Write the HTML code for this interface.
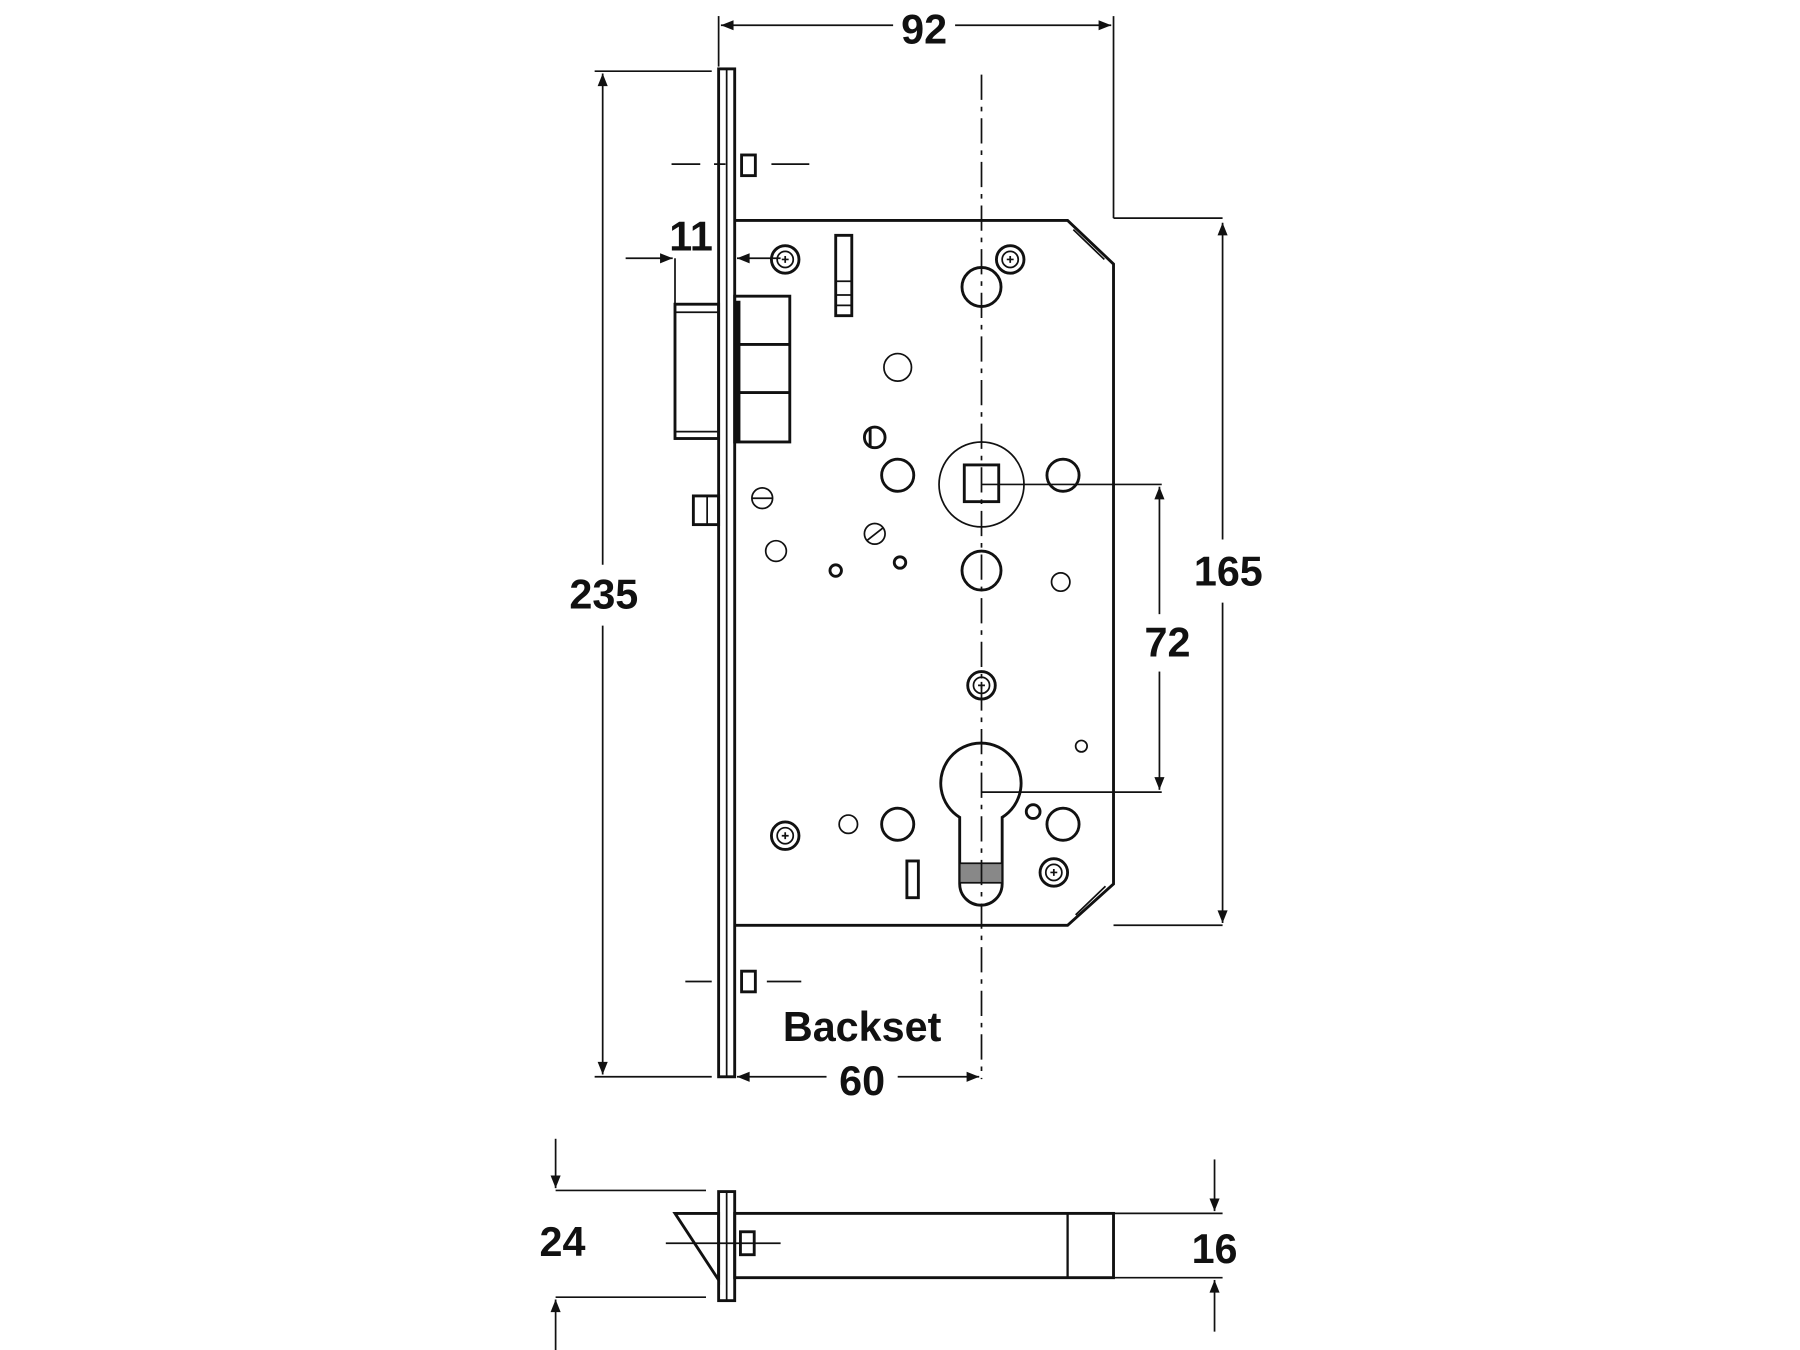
<!DOCTYPE html>
<html><head><style>html,body{margin:0;padding:0;background:#fff}svg{display:block}</style></head>
<body>
<svg width="1800" height="1350" viewBox="0 0 1568 1176" xmlns="http://www.w3.org/2000/svg" font-family="Liberation Sans, sans-serif" font-weight="bold">
<defs>
<marker id="a" viewBox="0 0 10 10" refX="10" refY="5" markerWidth="16" markerHeight="11" markerUnits="userSpaceOnUse" orient="auto-start-reverse"><path d="M0,1 L10,5 L0,9 z" fill="#111"/></marker>
<g id="scr"><circle r="12" fill="none" stroke="#111" stroke-width="2.5"/><circle r="7" fill="none" stroke="#111" stroke-width="1.5"/><path d="M-3,0 h6 M0,-3 v6" stroke="#111" stroke-width="1.5"/></g>
</defs>
<g stroke="#111" fill="none" stroke-width="2.5">
<rect x="626" y="60" width="14" height="878"/>
<line x1="633" y1="60" x2="633" y2="938" stroke-width="1.5"/>
<path d="M640,192 H930 L970,230 V770 L930,806 H640"/>
<path d="M935,200 L962,226 M937,797 L963,772" stroke-width="1.5"/>
<rect x="588" y="265" width="38" height="117"/>
<line x1="588" y1="272" x2="626" y2="272" stroke-width="1.5"/>
<line x1="588" y1="376" x2="626" y2="376" stroke-width="1.5"/>
<rect x="640" y="258" width="48" height="127"/>
<line x1="640" y1="300" x2="688" y2="300"/><line x1="640" y1="342" x2="688" y2="342"/>
<line x1="643" y1="262" x2="643" y2="385" stroke-width="4"/>
<rect x="604" y="432" width="22" height="25"/>
<line x1="616" y1="432" x2="616" y2="457" stroke-width="1.5"/>
<rect x="728" y="205" width="14" height="70"/>
<path d="M728,245 h14 M728,257 h14 M728,266 h14" stroke-width="1.5"/>
<rect x="790" y="750" width="10" height="32"/>
<circle cx="855" cy="250" r="17"/>
<circle cx="782" cy="320" r="12" stroke-width="1.5"/>
<circle cx="782" cy="414" r="14"/>
<circle cx="926" cy="414" r="14"/>
<circle cx="855" cy="497" r="17"/>
<circle cx="676" cy="480" r="9" stroke-width="1.5"/>
<circle cx="924" cy="507" r="8" stroke-width="1.5"/>
<circle cx="728" cy="497" r="5"/>
<circle cx="784" cy="490" r="5"/>
<circle cx="739" cy="718" r="8" stroke-width="1.5"/>
<circle cx="782" cy="718" r="14"/>
<circle cx="926" cy="718" r="14"/>
<circle cx="900" cy="707" r="6"/>
<circle cx="942" cy="650" r="5" stroke-width="1.5"/>
<circle cx="762" cy="381" r="9"/><line x1="758" y1="373" x2="758" y2="389"/>
<circle cx="664" cy="434" r="9" stroke-width="1.5"/><line x1="655" y1="434" x2="673" y2="434" stroke-width="1.5"/>
<circle cx="762" cy="465" r="9" stroke-width="1.5"/><line x1="755" y1="471" x2="769" y2="460" stroke-width="1.5"/>
<circle cx="855" cy="422" r="37" stroke-width="1.5"/>
<rect x="840" y="405" width="30" height="32"/>
<path d="M836,712 A35,35 0 1 1 873,712 V770 A18.5,18.5 0 0 1 836,770 Z"/>
<rect x="836" y="752" width="37" height="17" fill="#888" stroke-width="1.5"/>
</g>
<use href="#scr" x="684" y="226"/><use href="#scr" x="880" y="226"/><use href="#scr" x="684" y="728"/><use href="#scr" x="918" y="760"/><use href="#scr" x="855" y="597"/>
<g stroke="#111" fill="none" stroke-width="1.5">
<rect x="646" y="135" width="12" height="18" stroke-width="2.5"/>
<rect x="646" y="846" width="12" height="18" stroke-width="2.5"/>
<path d="M585,143 H610 M622,143 H632 M672,143 H705 M597,855 H620 M668,855 H698"/>
<line x1="855" y1="65" x2="855" y2="940" stroke-dasharray="22,6,4,6"/>
<line x1="626" y1="14" x2="626" y2="58"/><line x1="970" y1="14" x2="970" y2="190"/>
<line x1="970" y1="190" x2="1065" y2="190"/>
<line x1="628" y1="22" x2="778" y2="22" marker-start="url(#a)"/><line x1="832" y1="22" x2="968" y2="22" marker-end="url(#a)"/>
<line x1="970" y1="806" x2="1065" y2="806"/>
<line x1="1065" y1="194" x2="1065" y2="470" marker-start="url(#a)"/><line x1="1065" y1="525" x2="1065" y2="804" marker-end="url(#a)"/>
<line x1="855" y1="422" x2="1012" y2="422"/><line x1="855" y1="690" x2="1012" y2="690"/>
<line x1="1010" y1="424" x2="1010" y2="535" marker-start="url(#a)"/><line x1="1010" y1="585" x2="1010" y2="688" marker-end="url(#a)"/>
<line x1="518" y1="62" x2="620" y2="62"/><line x1="518" y1="938" x2="620" y2="938"/>
<line x1="525" y1="64" x2="525" y2="492" marker-start="url(#a)"/><line x1="525" y1="545" x2="525" y2="936" marker-end="url(#a)"/>
<line x1="545" y1="225" x2="586" y2="225" marker-end="url(#a)"/>
<line x1="588" y1="225" x2="588" y2="265"/>
<line x1="680" y1="225" x2="642" y2="225" marker-end="url(#a)"/>
<line x1="642" y1="938" x2="720" y2="938" marker-start="url(#a)"/><line x1="782" y1="938" x2="853" y2="938" marker-end="url(#a)"/>
<rect x="626" y="1038" width="14" height="95" stroke-width="2.5"/>
<line x1="633" y1="1038" x2="633" y2="1133"/>
<rect x="640" y="1057" width="330" height="56" stroke-width="2.5"/>
<line x1="930" y1="1057" x2="930" y2="1113" stroke-width="2"/>
<path d="M588,1057 H626 V1115 Z" stroke-width="2.5"/>
<rect x="645" y="1073" width="12" height="20" stroke-width="2.5"/>
<line x1="580" y1="1083" x2="680" y2="1083"/>
<line x1="484" y1="1037" x2="615" y2="1037"/><line x1="484" y1="1130" x2="615" y2="1130"/>
<line x1="484" y1="992" x2="484" y2="1035" marker-end="url(#a)"/><line x1="484" y1="1176" x2="484" y2="1132" marker-end="url(#a)"/>
<line x1="970" y1="1057" x2="1065" y2="1057"/><line x1="970" y1="1113" x2="1065" y2="1113"/>
<line x1="1058" y1="1010" x2="1058" y2="1055" marker-end="url(#a)"/><line x1="1058" y1="1160" x2="1058" y2="1115" marker-end="url(#a)"/>
</g>
<g fill="#111" font-size="36" text-anchor="middle">
<text x="805" y="38">92</text>
<text x="1070" y="510">165</text>
<text x="1017" y="572">72</text>
<text x="526" y="530">235</text>
<text x="602" y="218">11</text>
<text x="751" y="907">Backset</text>
<text x="751" y="954">60</text>
<text x="490" y="1094">24</text>
<text x="1058" y="1100">16</text>
</g>
</svg>
</body></html>
